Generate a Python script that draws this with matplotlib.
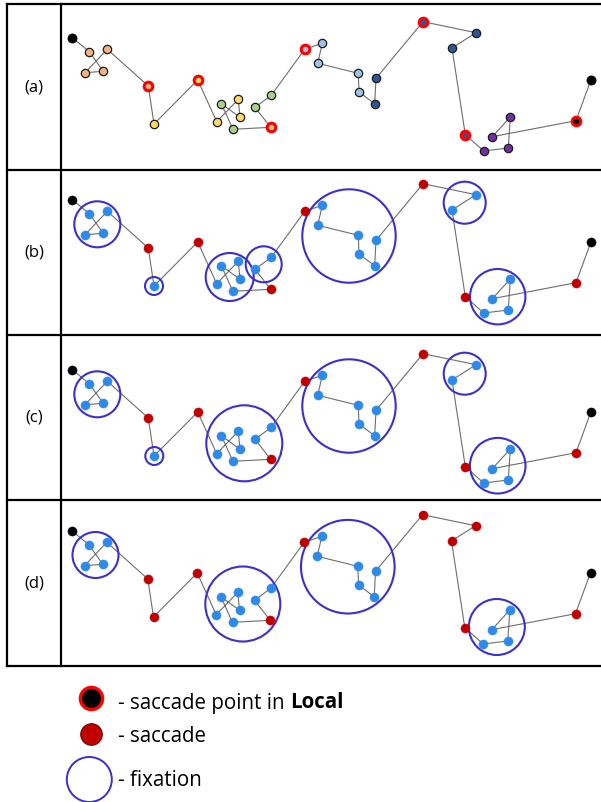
import matplotlib
matplotlib.use("Agg")
import matplotlib.pyplot as plt
from matplotlib.patches import Circle

# ---------------- data (pixel coordinates of panel (a)) ----------------
pt_x = [72.3, 89.3, 103.3, 85.0, 107.3, 148.3, 154.0, 197.7, 216.7, 238.3, 240.0,
        221.3, 233.0, 270.7, 255.0, 271.3, 304.7, 322.3, 317.7, 358.3, 359.0,
        374.7, 376.0, 423.0, 476.0, 452.0, 465.3, 483.7, 508.3, 510.3, 492.3,
        576.0, 591.0]
pt_y = [37.7, 51.7, 71.3, 72.7, 49.3, 86.0, 124.0, 80.0, 121.7, 99.3, 117.3,
        103.7, 129.3, 127.3, 107.3, 95.3, 49.3, 43.3, 63.3, 73.3, 92.0,
        103.7, 78.3, 21.7, 32.7, 48.0, 134.7, 151.0, 148.0, 117.0, 136.7,
        120.7, 79.7]
# group of each point in panel (a)
pt_group = ["end", "or", "or", "or", "or", "or", "ye", "ye", "ye", "ye", "ye",
            "gr", "gr", "gr", "gr", "gr", "lb", "lb", "lb", "lb", "lb",
            "db", "db", "db", "db", "db", "db", "pu", "pu", "pu", "pu",
            "end", "end"]
# saccade points in Local (red rings) in panel (a)
local_saccade = [5, 7, 13, 16, 23, 26, 31]
group_colors = {"end": "#000000", "or": "#F4B183", "ye": "#FFD966", "gr": "#A9D18E",
                "lb": "#9DC3E6", "db": "#2F5597", "pu": "#7030A0"}

panel_labels = ["(a)", "(b)", "(c)", "(d)"]
panel_dy = [0, 162, 332, 493]
panel_dx = [0, 0, 0, -0.5]

# saccade points (red) in panels b, c, d
saccade_b = [5, 7, 13, 16, 23, 26, 31]
saccade_c = [5, 7, 13, 16, 23, 26, 31]
saccade_d = [5, 6, 7, 13, 16, 23, 24, 25, 26, 31]
end_points = [0, 32]

# fixation circles (centre x, centre y in panel-(a) coordinates, radius)
circles_b = [(97.3, 62.3, 23), (154.0, 124.0, 9), (229.7, 115.0, 24), (263.7, 102.3, 18),
             (349.0, 74.0, 46.7), (464.7, 40.7, 21), (497.7, 134.7, 27.7)]
circles_c = [(97.3, 62.3, 23), (154.3, 124.0, 9), (244.3, 111.3, 38),
             (349.0, 74.0, 46.7), (464.7, 41.7, 21), (497.7, 133.7, 27.8)]
circles_d = [(96.0, 62.0, 23), (243.3, 111.0, 37.5), (348.3, 73.7, 46.8), (497.3, 134.0, 28)]

legend_texts = ["saccade point in ", "saccade", "fixation"]

# ---------------- drawing ----------------
W, H = 601, 802
fig = plt.figure(figsize=(W / 100, H / 100), dpi=100)
ax = fig.add_axes([0, 0, 1, 1])
ax.set_xlim(0, W)
ax.set_ylim(H, 0)
ax.axis("off")

LINE_C = "#6E6E6E"
RED = "#C00000"
BLUE = "#2E8AE8"
CIRC = "#3B30CF"
FAM = ["Open Sans", "DejaVu Sans"]

# frame
frame_kw = dict(color="black", lw=1.6, solid_capstyle="projecting", zorder=5)
top, bottom, left, right, div = 4, 666, 7, 602, 61
rows = [4, 170, 335, 500, 666]
for yy in rows:
    ax.plot([left, right], [yy, yy], **frame_kw)
ax.plot([left, left], [top, bottom], **frame_kw)
ax.plot([div, div], [top, bottom], **frame_kw)

for i, lab in enumerate(panel_labels):
    ax.text((left + div) / 2, (rows[i] + rows[i + 1]) / 2, lab, ha="center", va="center",
            fontsize=12, family=FAM)

def pts(i):
    xs = [x + panel_dx[i] for x in pt_x]
    ys = [y + panel_dy[i] for y in pt_y]
    return xs, ys

# panel (a)
xs, ys = pts(0)
ax.plot(xs, ys, color=LINE_C, lw=0.8, zorder=2)
for k in range(len(xs)):
    g = pt_group[k]
    if k in local_saccade:
        fc = group_colors[g]
        ax.plot(xs[k], ys[k], "o", ms=6.2, mfc=fc, mec="#FF0000", mew=2.2, zorder=4)
    elif g == "end":
        ax.plot(xs[k], ys[k], "o", ms=6.6, mfc="black", mec="black", mew=0.5, zorder=4)
    else:
        ax.plot(xs[k], ys[k], "o", ms=6.0, mfc=group_colors[g], mec="#1a1a1a", mew=0.9, zorder=4)

# panels (b)-(d)
for i, sacc, circs in [(1, saccade_b, circles_b), (2, saccade_c, circles_c), (3, saccade_d, circles_d)]:
    xs, ys = pts(i)
    ax.plot(xs, ys, color=LINE_C, lw=0.8, zorder=2)
    for k in range(len(xs)):
        if k in end_points:
            c = "black"
        elif k in sacc:
            c = RED
        else:
            c = BLUE
        ax.plot(xs[k], ys[k], "o", ms=6.6, mfc=c, mec=c, mew=0.3, zorder=4)
    for cx, cy, r in circs:
        ax.add_patch(Circle((cx + panel_dx[i], cy + panel_dy[i]), r, fill=False,
                            ec=CIRC, lw=1.5, zorder=3))

# legend
tkw = dict(fontsize=14.8, va="center", ha="left", family=FAM)
ax.plot(90.7, 698.3, "o", ms=16, mfc="black", mec="#FF0000", mew=2.4, zorder=4)
t1 = ax.text(118, 703, "- " + legend_texts[0], **tkw)
fig.canvas.draw()
bb = t1.get_window_extent()
x_end = bb.x1  # pixels == data x units
ax.text(x_end, 703, "Local", fontweight="bold", **tkw)
ax.plot(90.7, 734, "o", ms=15.5, mfc=RED, mec="#700000", mew=0.8, zorder=4)
ax.text(118, 736, "- " + legend_texts[1], **tkw)
ax.add_patch(Circle((89.3, 779.5), 22.5, fill=False, ec=CIRC, lw=1.4, zorder=3))
ax.text(118, 781, "- " + legend_texts[2], **tkw)

fig.savefig("out.png", dpi=100)
